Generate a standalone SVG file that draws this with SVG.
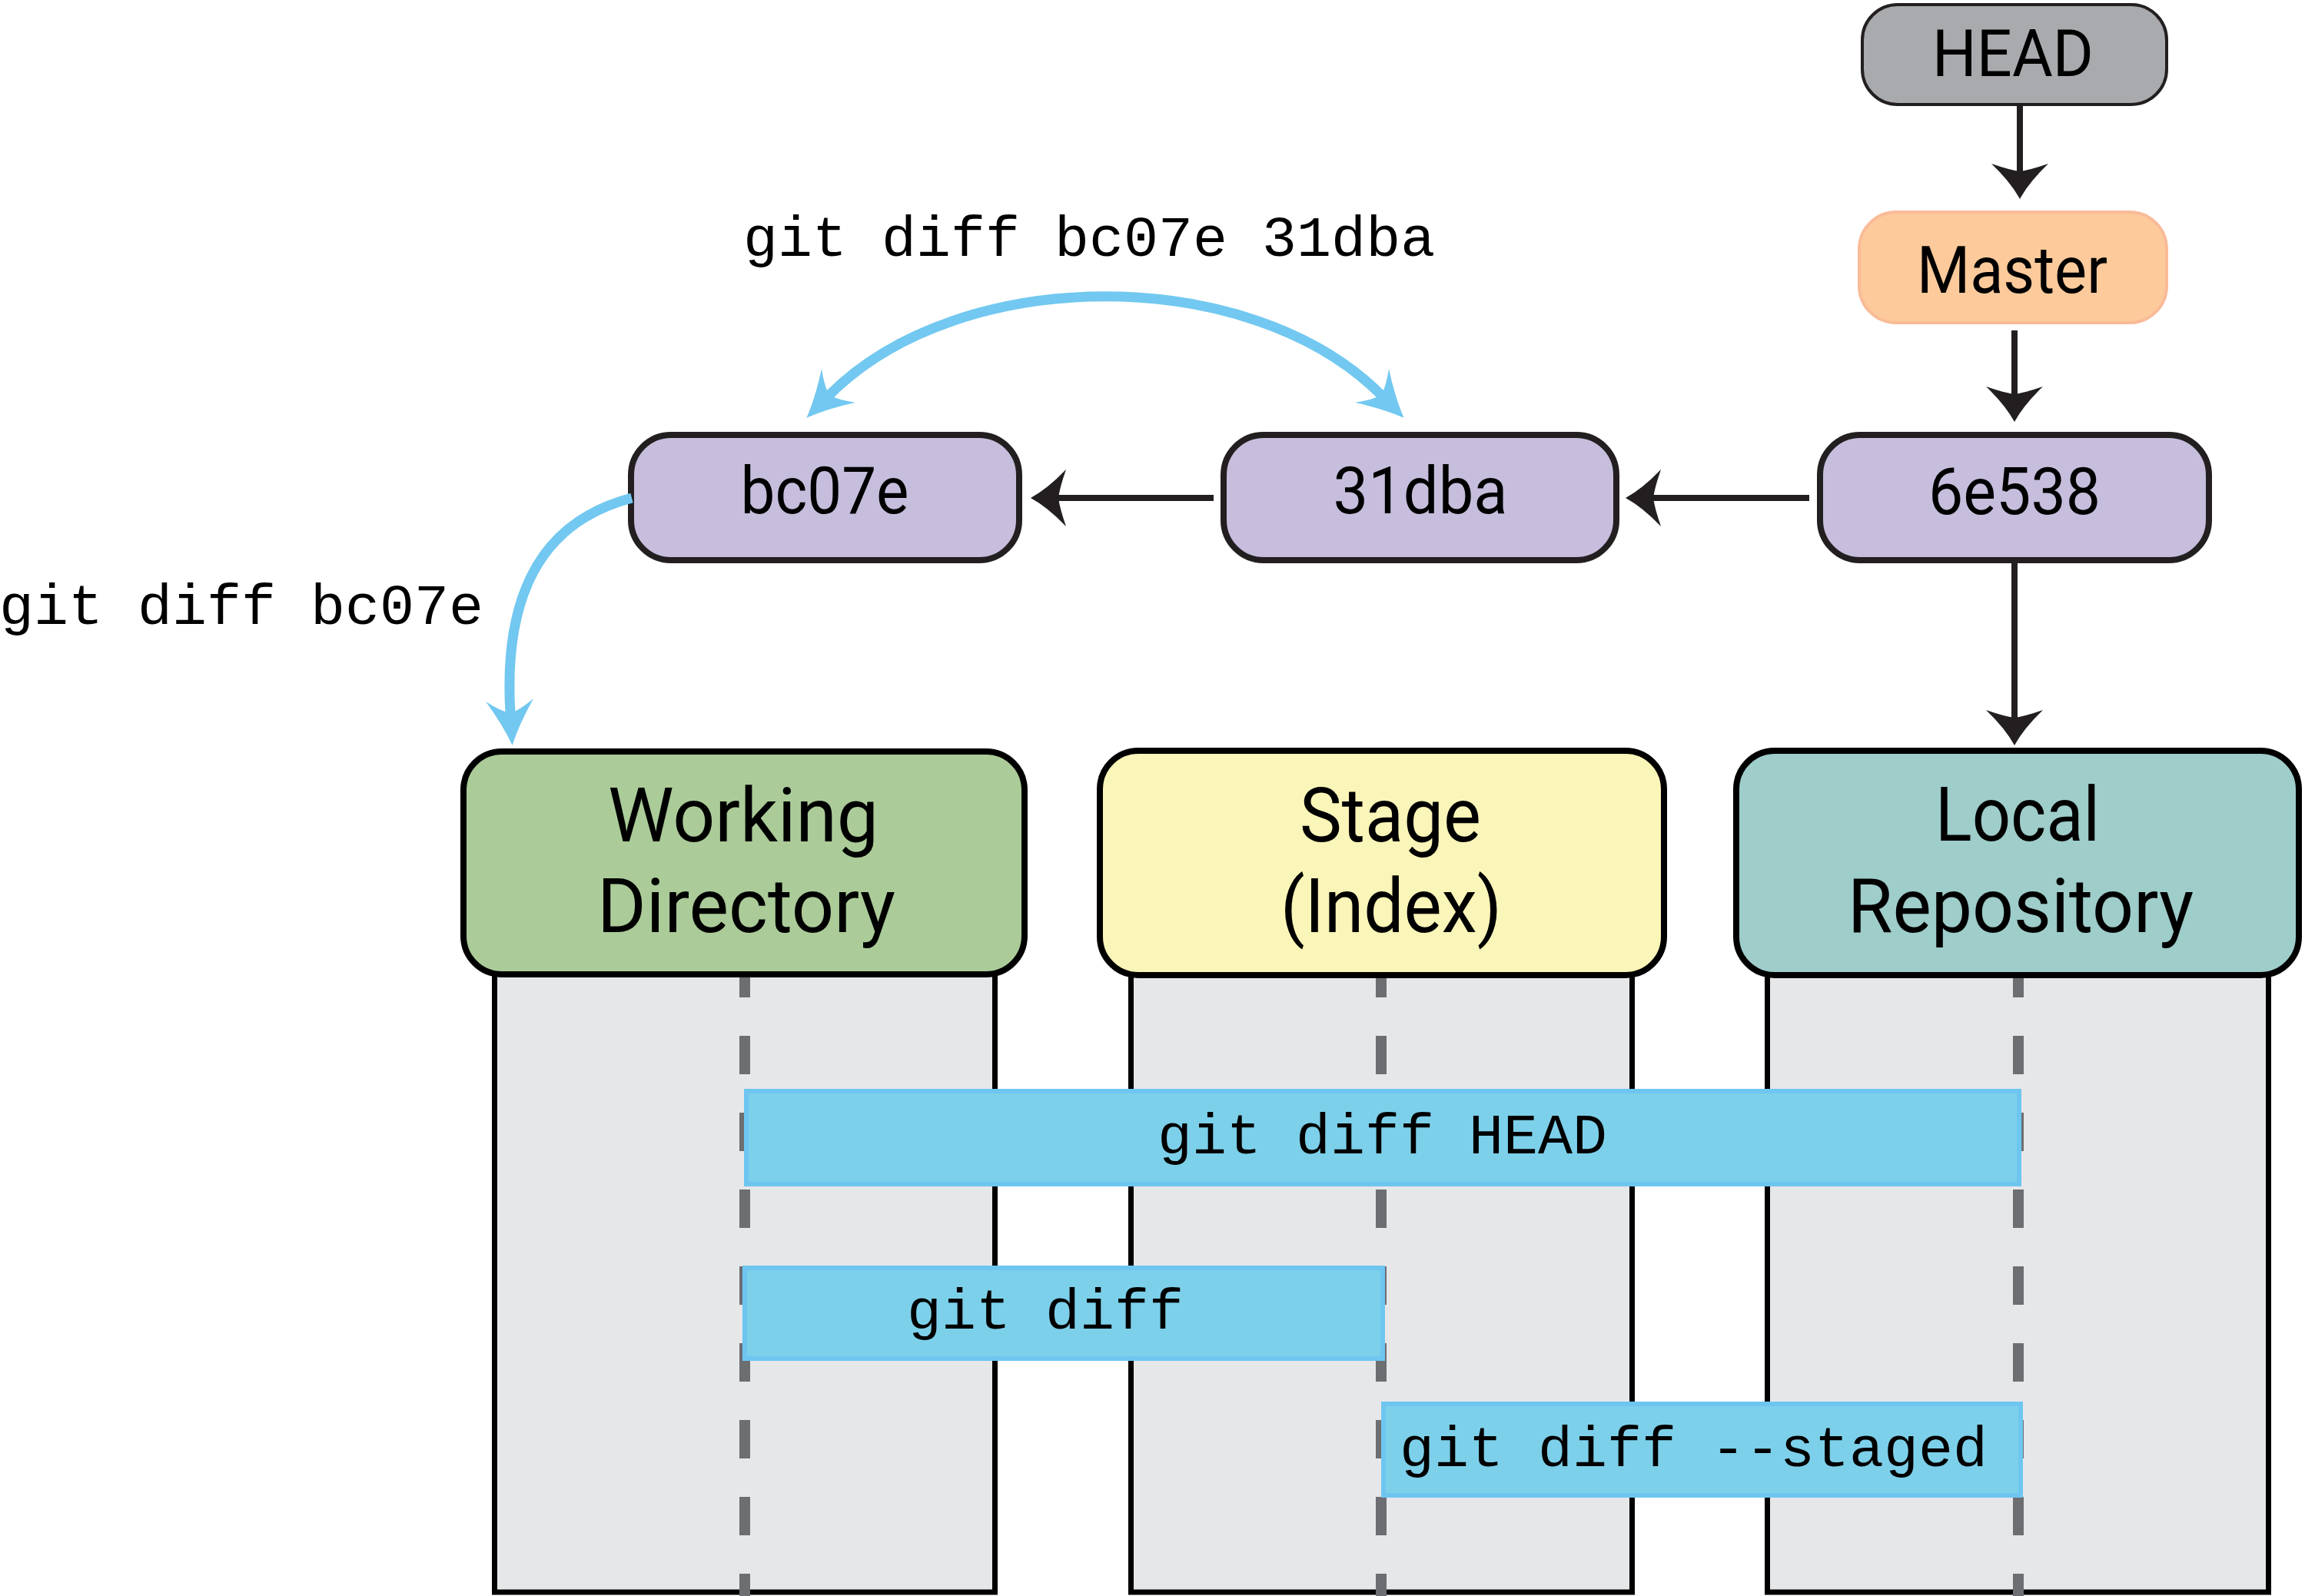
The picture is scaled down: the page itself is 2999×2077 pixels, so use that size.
<svg xmlns="http://www.w3.org/2000/svg" width="2999" height="2077" viewBox="0 0 2999 2077">
<style>
.node{stroke:#231f20;stroke-width:8}
.commit{fill:#c6bedc}
.lbl{font-family:Roboto,"Open Sans",sans-serif;fill:#000;text-anchor:middle}
.nl{font-size:86px}
.hl{font-size:98px}
.mono{font-family:"Liberation Mono","DejaVu Sans Mono",monospace;font-size:75px;fill:#000}
.body{fill:#e6e7e8;stroke:#000;stroke-width:7}
.hdr{stroke:#000;stroke-width:8}
.dash{stroke:#6d6e71;stroke-width:14;stroke-dasharray:50 50;stroke-dashoffset:24;fill:none}
.bar{fill:#7dd0ea;stroke:#6ec6f0;stroke-width:6}
.blk{stroke:#231f20;stroke-width:8;fill:none}
.blue{stroke:#72c8f0;stroke-width:13;fill:none}
</style>
<defs>
<marker id="ah" markerUnits="userSpaceOnUse" viewBox="-50 -40 90 80" markerWidth="90" markerHeight="80" refX="0" refY="0" orient="auto">
<path d="M36,0 Q14,-12 -10,-37 Q-2,-14 0,0 Q-2,14 -10,37 Q14,12 36,0 Z" fill="#231f20"/>
</marker>
<marker id="bh" markerUnits="userSpaceOnUse" viewBox="-50 -40 110 80" markerWidth="110" markerHeight="80" refX="0" refY="0" orient="auto-start-reverse">
<path d="M42,0 Q16,-10 -17,-31 Q-3,-12 0,0 Q-3,12 -17,31 Q16,10 42,0 Z" fill="#72c8f0"/>
</marker>
</defs>

<g id="col-working">
<rect class="body" x="643.5" y="1250" width="651" height="822"/>
<line class="dash" x1="969" y1="1272" x2="969" y2="2077"/>
</g>
<g id="col-stage">
<rect class="body" x="1471.5" y="1250" width="652" height="822"/>
<line class="dash" x1="1797" y1="1272" x2="1797" y2="2077"/>
</g>
<g id="col-local">
<rect class="body" x="2299.5" y="1250" width="652" height="822"/>
<line class="dash" x1="2626" y1="1272" x2="2626" y2="2077"/>
</g>

<g id="working-directory">
<rect class="hdr" x="603" y="978" width="730" height="290" rx="50" fill="#abcc99"/>
<text class="lbl hl"><tspan x="967" y="1095" textLength="352" lengthAdjust="spacingAndGlyphs">Working</tspan><tspan x="971" y="1213" textLength="388" lengthAdjust="spacingAndGlyphs">Directory</tspan></text>
</g>
<g id="stage">
<rect class="hdr" x="1431" y="977" width="734" height="292" rx="50" fill="#faf5b8"/>
<text class="lbl hl"><tspan x="1809" y="1095" textLength="236" lengthAdjust="spacingAndGlyphs">Stage</tspan><tspan x="1810" y="1213" textLength="288" lengthAdjust="spacingAndGlyphs">(Index)</tspan></text>
</g>
<g id="local-repository">
<rect class="hdr" x="2259" y="977" width="732" height="292" rx="50" fill="#9ecdca"/>
<text class="lbl hl"><tspan x="2625" y="1094" textLength="214" lengthAdjust="spacingAndGlyphs">Local</tspan><tspan x="2629" y="1213" textLength="450" lengthAdjust="spacingAndGlyphs">Repository</tspan></text>
</g>

<g id="diff-head">
<rect class="bar" x="971" y="1420" width="1656" height="121"/>
<text class="mono" x="1506" y="1501">git diff HEAD</text>
</g>
<g id="diff">
<rect class="bar" x="969" y="1650" width="830" height="118"/>
<text class="mono" x="1180" y="1729">git diff</text>
</g>
<g id="diff-staged">
<rect class="bar" x="1800" y="1827" width="829" height="119"/>
<text class="mono" x="1821" y="1908">git diff --staged</text>
</g>

<g id="head">
<rect x="2423" y="6" width="396" height="130" rx="46" fill="#a8aaad" stroke="#231f20" stroke-width="4"/>
<text class="lbl nl" x="2619" y="99" textLength="210" lengthAdjust="spacingAndGlyphs">HEAD</text>
</g>
<g id="master">
<rect x="2419" y="276" width="400" height="144" rx="48" fill="#fdca9b" stroke="#f9bb98" stroke-width="4"/>
<text class="lbl nl" x="2618" y="381" textLength="248" lengthAdjust="spacingAndGlyphs">Master</text>
</g>
<g id="c6e538">
<rect class="node commit" x="2368" y="566" width="506" height="163" rx="52"/>
<text class="lbl nl" x="2621" y="669" textLength="224" lengthAdjust="spacingAndGlyphs">6e538</text>
</g>
<g id="c31dba">
<rect class="node commit" x="1592" y="566" width="511" height="163" rx="52"/>
<text class="lbl nl" x="1848" y="668" textLength="227" lengthAdjust="spacingAndGlyphs">31dba</text>
</g>
<g id="cbc07e">
<rect class="node commit" x="821" y="566" width="505" height="163" rx="52"/>
<text class="lbl nl" x="1073" y="668" textLength="219" lengthAdjust="spacingAndGlyphs">bc07e</text>
</g>

<g id="connectors">
<line class="blk" x1="2628" y1="138" x2="2628" y2="223" marker-end="url(#ah)"/>
<line class="blk" x1="2621" y1="430" x2="2621" y2="513" marker-end="url(#ah)"/>
<line class="blk" x1="2621" y1="733" x2="2621" y2="934" marker-end="url(#ah)"/>
<line class="blk" x1="2354" y1="648" x2="2151" y2="648" marker-end="url(#ah)"/>
<line class="blk" x1="1579" y1="648" x2="1377" y2="648" marker-end="url(#ah)"/>
<path class="blue" d="M1079,514 C1249,343 1627,343 1797,514" marker-start="url(#bh)" marker-end="url(#bh)"/>
<path class="blue" d="M822,648 C700,680 655,780 664,928" marker-end="url(#bh)"/>
</g>

<g id="labels">
<text class="mono" x="967" y="333">git diff bc07e 31dba</text>
<text class="mono" x="-1" y="812">git diff bc07e</text>
</g>
</svg>
